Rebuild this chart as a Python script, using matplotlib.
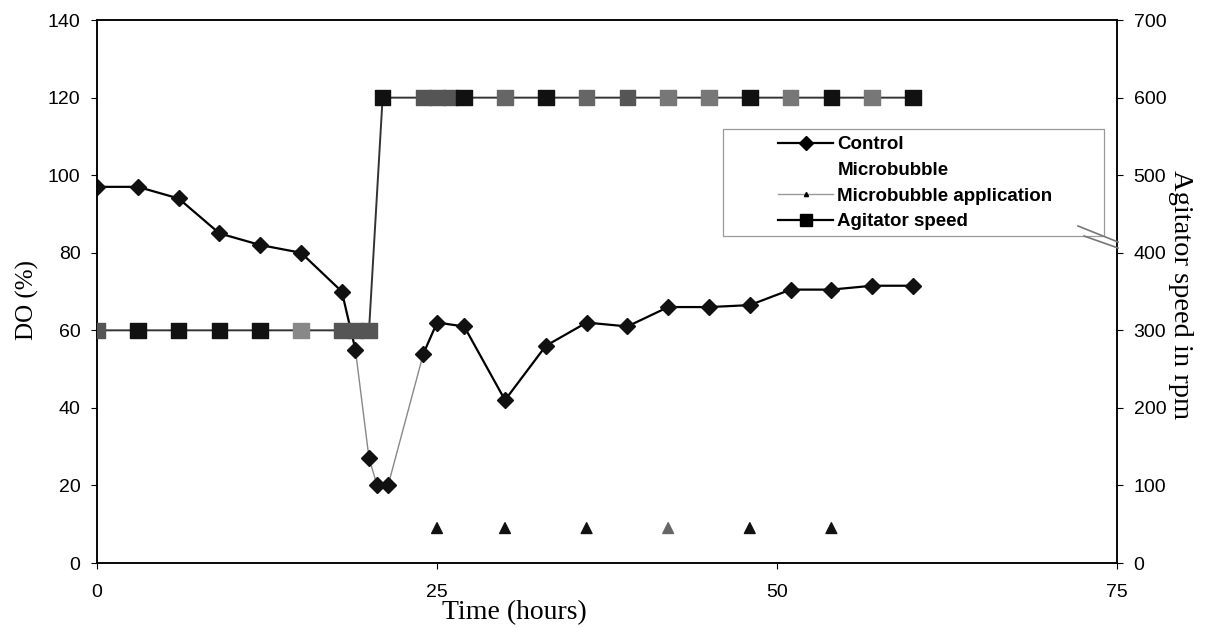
import numpy as np
import matplotlib
matplotlib.use('Agg')
import matplotlib.pyplot as plt
from matplotlib.patches import Rectangle
from matplotlib.lines import Line2D

# DO (%) control run
ctrl_t = [0, 3, 6, 9, 12, 15, 18, 19, 20, 20.6, 21.4, 24, 25, 27, 30, 33, 36, 39, 42, 45, 48, 51, 54, 57, 60]
ctrl_do = [97, 97, 94, 85, 82, 80, 70, 55, 27, 20, 20, 54, 62, 61, 42, 56, 62, 61, 66, 66, 66.5, 70.5, 70.5, 71.5, 71.5]

# agitator speed (rpm)
agit_t = [0, 3, 6, 9, 12, 15, 18, 19, 20, 21, 24, 25, 26, 27, 30, 33, 36, 39, 42, 45, 48, 51, 54, 57, 60]
agit_rpm = [300, 300, 300, 300, 300, 300, 300, 300, 300, 600, 600, 600, 600, 600, 600, 600,
            600, 600, 600, 600, 600, 600, 600, 600, 600]

# microbubble application times
app_t = [25, 30, 36, 42, 48, 54]
app_do = [9, 9, 9, 9, 9, 9]

# scan shading of the squares / triangles (style only)
agit_col = ['#555555', '#111111', '#111111', '#111111', '#111111', '#888888', '#555555', '#555555', '#555555',
            '#111111', '#555555', '#555555', '#555555', '#111111', '#666666', '#111111', '#666666', '#555555',
            '#777777', '#777777', '#111111', '#777777', '#111111', '#777777', '#111111']
app_col = ['#111111', '#111111', '#111111', '#666666', '#111111', '#111111']

sans = 'Liberation Sans'
serif = 'Liberation Serif'

fig = plt.figure(figsize=(12.07, 6.28), dpi=100)
ax = fig.add_axes([0.0804, 0.1035, 0.845, 0.8645])
ax2 = ax.twinx()

# control curve: black, with the dip drawn lighter like in the scan
i0, i1 = 7, 11
ax.plot(ctrl_t[:i0 + 1], ctrl_do[:i0 + 1], color='black', lw=1.6, zorder=3)
ax.plot(ctrl_t[i0:i1 + 1], ctrl_do[i0:i1 + 1], color='#888888', lw=1.0, zorder=3)
ax.plot(ctrl_t[i1:], ctrl_do[i1:], color='black', lw=1.6, zorder=3)
ax.plot(ctrl_t, ctrl_do, ls='none', marker='D', ms=8, color='#111111', zorder=4)

ax.scatter(app_t, app_do, marker='^', s=60, c=app_col, zorder=4)

ax2.plot(agit_t, agit_rpm, color='#333333', lw=1.4, zorder=3)
ax2.scatter(agit_t, agit_rpm, marker='s', s=125, c=agit_col, zorder=4)

ax.set_xlim(0, 75)
ax.set_ylim(0, 140)
ax2.set_ylim(0, 700)
ax.set_xticks([0, 25, 50, 75])
ax.set_yticks(np.arange(0, 141, 20))
ax2.set_yticks(np.arange(0, 701, 100))

for a in (ax, ax2):
    a.tick_params(labelsize=14, width=0.8, length=4, direction='out', pad=8)
    for lab in a.get_xticklabels() + a.get_yticklabels():
        lab.set_fontfamily(sans)
    for s in a.spines.values():
        s.set_linewidth(1.1)
ax.tick_params(axis='x', pad=11)

ax.set_xlabel('Time (hours)', fontsize=20, family=serif)
ax.xaxis.set_label_coords(0.409, -0.068)
ax.set_ylabel('DO (%)', fontsize=18, family=serif)
ax.yaxis.set_label_coords(-0.057, 0.484)
ax2.set_ylabel('Agitator speed in rpm', fontsize=20.5, family=serif, rotation=-90, va='bottom')
ax2.yaxis.set_label_coords(1.050, 0.495)

# legend handles
h1 = Line2D([], [], color='black', lw=1.6, marker='D', ms=7)
h2 = Line2D([], [], ls='none', color='white')
h3 = Line2D([], [], color='#999999', lw=1.0, marker='^', ms=3, mfc='black', mec='black')
h4 = Line2D([], [], color='black', lw=1.6, marker='s', ms=8)
leg = ax.legend([h1, h2, h3, h4], ['Control', 'Microbubble', 'Microbubble application', 'Agitator speed'],
                loc='upper left', bbox_to_anchor=(0.668, 0.786), frameon=False,
                prop={'family': sans, 'weight': 'bold', 'size': 13.5}, handlelength=2.9,
                handletextpad=0.25, borderpad=0, borderaxespad=0, labelspacing=0.45)
leg.set_zorder(5)
fig.patches.append(Rectangle((0.599, 0.6242), 0.3157, 0.1704, transform=fig.transFigure,
                             fill=False, edgecolor='#999999', lw=0.9))

# the little axis-break mark next to 400 rpm
fig.add_artist(Line2D([1078 / 1207, 1118 / 1207], [1 - 226 / 628, 1 - 242 / 628], color='#777777', lw=1.2))
fig.add_artist(Line2D([1084 / 1207, 1118 / 1207], [1 - 236 / 628, 1 - 248 / 628], color='#777777', lw=1.2))

fig.savefig('out.png', dpi=100)
